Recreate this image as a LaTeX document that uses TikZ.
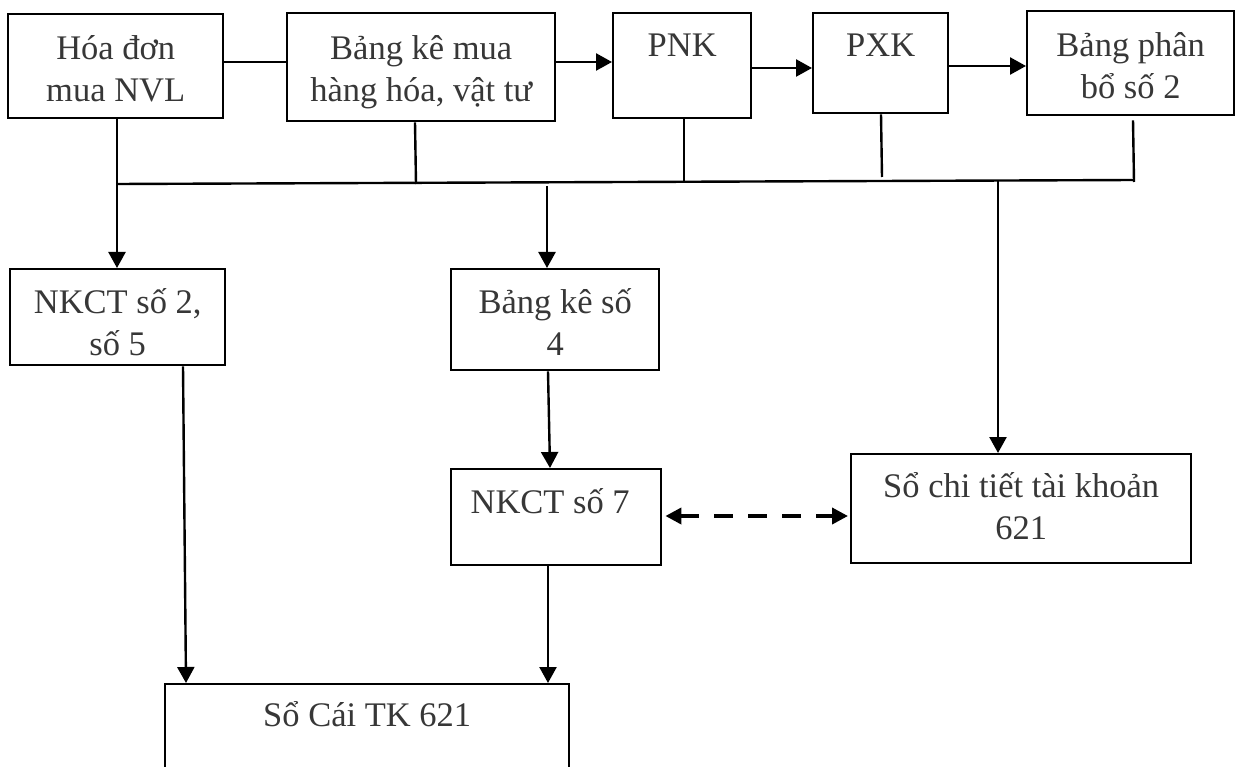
\documentclass[tikz,border=0pt]{standalone}
\usepackage{fontspec}
\setmainfont{Liberation Serif}
\usetikzlibrary{arrows.meta,calc}
\definecolor{inkgray}{RGB}{55,55,55}
\begin{document}
\begin{tikzpicture}[x=1pt,y=-1pt,
  box/.style={draw=black, line width=2.4pt, inner sep=0pt, align=center,
    anchor=north west, text=inkgray, font=\fontsize{34.5}{42}\selectfont},
  link/.style={draw=black, line width=2.4pt},
  arr/.style={link, -{Triangle[length=16pt,width=17pt]}},
  darr/.style={draw=black, line width=3.8pt, dash pattern=on 19pt off 15pt,
    {Triangle[length=16pt,width=16pt]}-{Triangle[length=16pt,width=16pt]}},
]
\useasboundingbox (0,0) rectangle (1236,767);

% top row of source documents (text height measured to the last baseline)
\node[box, minimum width=215pt, text height=87pt, text depth=17pt] (b1) at (7,13) {Hóa đơn\\mua NVL};
\node[box, minimum width=268pt, text height=88pt, text depth=20pt] (b2) at (286,12) {Bảng kê mua\\hàng hóa, vật tư};
\node[box, minimum width=138pt, text height=43pt, text depth=62pt] (pnk) at (612,12) {PNK};
\node[box, minimum width=135pt, text height=43pt, text depth=57pt] (pxk) at (812,12) {PXK};
\node[box, minimum width=207pt, text height=87pt, text depth=17pt] (bpb) at (1026,10) {Bảng phân\\bổ số 2};

% journals and ledgers
\node[box, minimum width=215pt, text height=86pt, text depth=10pt] (nk25) at (9,268) {NKCT số 2,\\số 5};
\node[box, minimum width=208pt, text height=86pt, text depth=15pt] (bk4) at (450,268) {Bảng kê số\\4};
\node[box, minimum width=210pt, text height=44pt, text depth=52pt] (nk7) at (450,468) {NKCT số 7\hspace*{12pt}};
\node[box, minimum width=340pt, text height=85pt, text depth=24pt] (sct) at (850,453) {Sổ chi tiết tài khoản\\621};
\node[box, minimum width=404pt, text height=42pt, text depth=95pt] (sc) at (164,683) {Sổ Cái TK 621};

% top row links
\draw[link] (b1.east |- 0,62) -- (b2.west |- 0,62);
\draw[arr] (b2.east |- 0,62) -- (pnk.west |- 0,62);
\draw[arr] (pnk.east |- 0,68) -- (pxk.west |- 0,68);
\draw[arr] (pxk.east |- 0,66) -- (bpb.west |- 0,66);

% collecting bus
\coordinate (busL) at (117,184);
\coordinate (busR) at (1134,180);
\coordinate (j2) at (416,184);
\coordinate (j3) at (684,182);
\coordinate (j4) at (882,177);
\coordinate (j5) at (1134,182);
\coordinate (j6) at (547,186);
\coordinate (j7) at (998,181);
\draw[link] (busL) -- (busR);
\draw[link] (415,0 |- b2.south) -- (j2);
\draw[link] (684,0 |- pnk.south) -- (j3);
\draw[link] (881,0 |- pxk.south) -- (j4);
\draw[link] ($(1133,0 |- bpb.south)+(0,4)$) -- (j5);

% downward flows
\draw[arr] (117,0 |- b1.south) -- (117,0 |- nk25.north);
\draw[arr] (j6) -- (547,0 |- bk4.north);
\draw[arr] (j7) -- (998,0 |- sct.north);
\draw[arr] (548,0 |- bk4.south) -- (550,0 |- nk7.north);
\draw[arr] (183,0 |- nk25.south) -- (186,0 |- sc.north);
\draw[arr] (548,0 |- nk7.south) -- (548,0 |- sc.north);

% reconciliation
\draw[darr, shorten <=3pt, shorten >=2pt] (nk7.east |- 0,516) -- (sct.west |- 0,516);
\end{tikzpicture}
\end{document}
